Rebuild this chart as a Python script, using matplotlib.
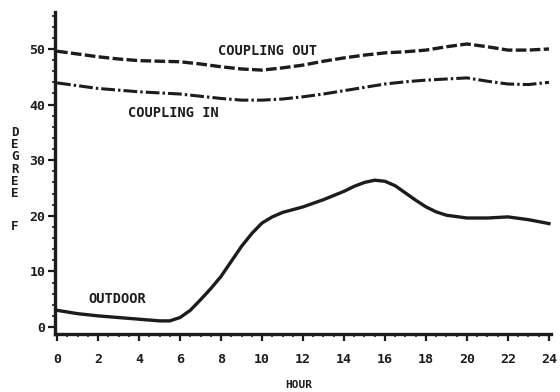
import matplotlib.pyplot as plt
from matplotlib.ticker import MultipleLocator

hours = list(range(0, 25))
coupling_out = [49.6, 49.1, 48.6, 48.2, 47.9, 47.8, 47.7, 47.3, 46.8, 46.4, 46.2, 46.6, 47.1,
                47.8, 48.4, 48.9, 49.3, 49.5, 49.8, 50.4, 50.9, 50.4, 49.8, 49.8, 50.0]
coupling_in = [43.9, 43.4, 42.9, 42.6, 42.3, 42.1, 41.9, 41.5, 41.1, 40.8, 40.8, 41.0, 41.4,
               41.9, 42.5, 43.1, 43.7, 44.1, 44.4, 44.6, 44.8, 44.2, 43.7, 43.6, 44.0]
outdoor_hours = [0, 1, 2, 3, 4, 5, 5.5, 6, 6.5, 7, 7.5, 8, 8.5, 9, 9.5, 10, 10.5, 11, 11.5,
                 12, 13, 14, 14.5, 15, 15.5, 16, 16.5, 17, 17.5, 18, 18.5, 19, 20, 21, 22,
                 23, 24]
outdoor = [3.0, 2.4, 2.0, 1.7, 1.4, 1.1, 1.1, 1.7, 3.0, 4.9, 6.9, 9.1, 11.8, 14.5, 16.8,
           18.7, 19.8, 20.6, 21.1, 21.6, 22.9, 24.4, 25.3, 26.0, 26.4, 26.2, 25.4, 24.1,
           22.8, 21.6, 20.7, 20.1, 19.6, 19.6, 19.8, 19.3, 18.6]
xticks = list(range(0, 25, 2))
yticks = list(range(0, 51, 10))

ink = '#1c1c1c'
plt.rcParams['font.family'] = 'DejaVu Sans Mono'
plt.rcParams['font.weight'] = 'bold'

fig = plt.figure(figsize=(5.6, 3.92), dpi=100)
ax = fig.add_axes([55 / 560, 58 / 392, 496 / 560, 322 / 392])

ax.plot(hours, coupling_out, color=ink, lw=2.4, dashes=(3.2, 1.0))
ax.plot(hours, coupling_in, color=ink, lw=2.2, dashes=(4.5, 1.0, 0.8, 1.0))
ax.plot(outdoor_hours, outdoor, color=ink, lw=2.4, solid_joinstyle='round')

ax.text(7.85, 49.6, 'COUPLING OUT', fontsize=9.8, va='center', ha='left', color=ink)
ax.text(3.45, 38.4, 'COUPLING IN', fontsize=9.8, va='center', ha='left', color=ink)
ax.text(1.55, 5.1, 'OUTDOOR', fontsize=9.8, va='center', ha='left', color=ink)

ax.set_xlim(-0.1, 24.1)
ax.set_ylim(-1.26, 56.65)
ax.set_xticks(xticks)
ax.set_yticks(yticks)
ax.xaxis.set_minor_locator(MultipleLocator(0.5))
ax.yaxis.set_minor_locator(MultipleLocator(2))
ax.tick_params(axis='both', which='major', length=5, width=1.6, colors=ink, labelsize=9.5)
ax.tick_params(axis='both', which='minor', length=2.5, width=1.2, colors=ink)
ax.tick_params(axis='x', which='major', pad=9)
ax.tick_params(axis='y', which='major', pad=2)
for s in ['top', 'right']:
    ax.spines[s].set_visible(False)
for s in ['left', 'bottom']:
    ax.spines[s].set_linewidth(2.4)
    ax.spines[s].set_color(ink)

fig.text(299 / 560, 1 - 385 / 392, 'HOUR', fontsize=8, ha='center', va='center', color=ink)
fig.text(15 / 560, 1 - 163 / 392, 'D\nE\nG\nR\nE\nE', fontsize=9, ha='center', va='center',
         linespacing=0.92, color=ink)
fig.text(15 / 560, 1 - 226 / 392, 'F', fontsize=9, ha='center', va='center', color=ink)

fig.savefig('out.png', dpi=100)
